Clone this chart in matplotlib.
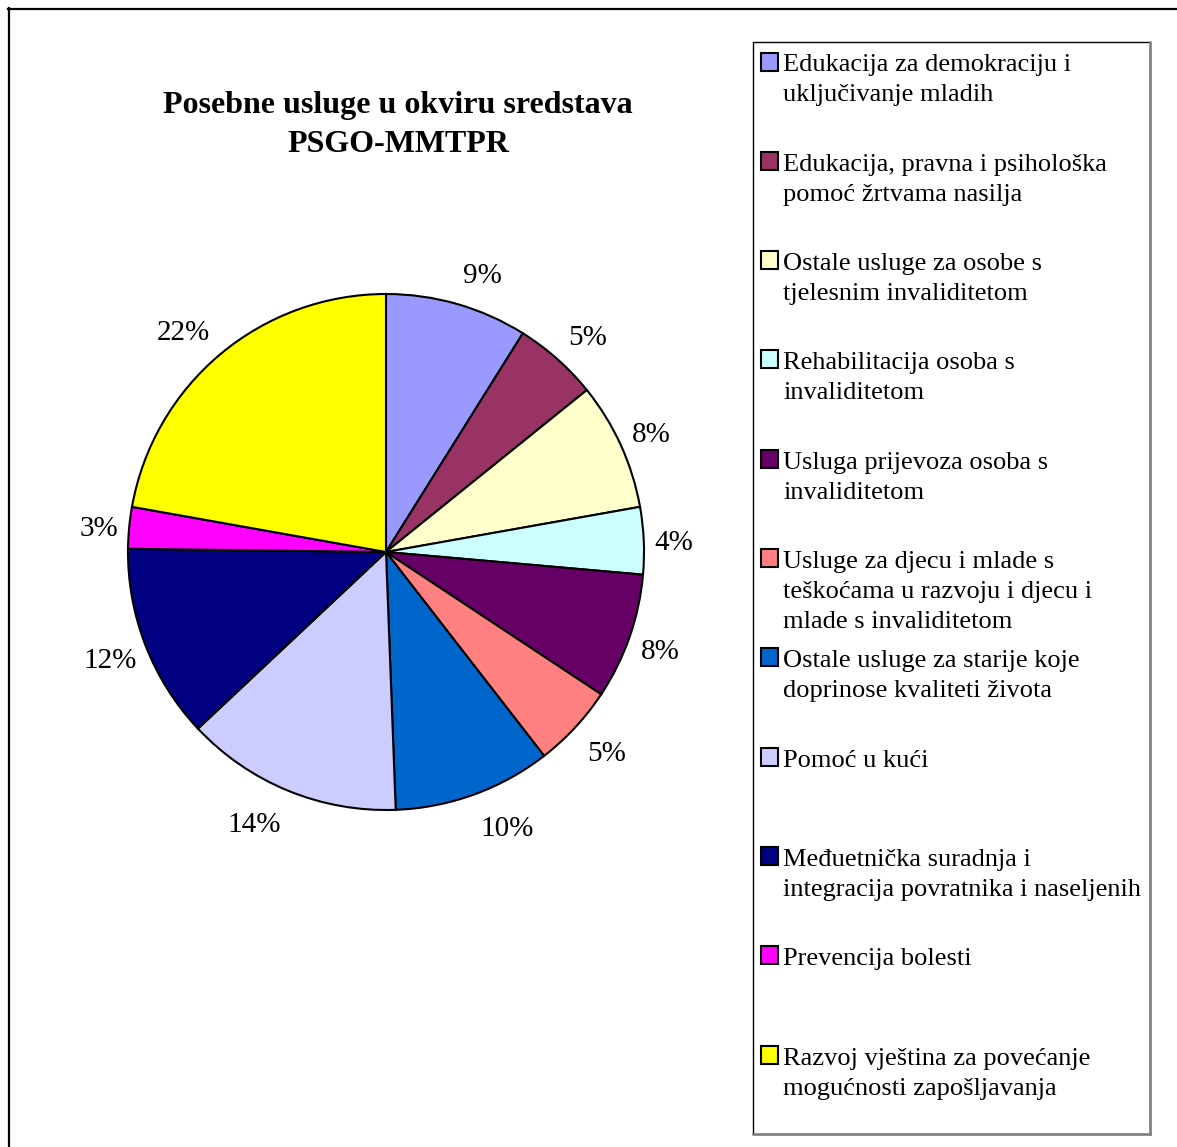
import matplotlib
matplotlib.use("Agg")
import numpy as np
import matplotlib.pyplot as plt
from matplotlib.patches import Rectangle
from matplotlib.lines import Line2D

# podaci (ocitano sa slike)
kategorije = [
    "Edukacija za demokraciju i\nuključivanje mladih",
    "Edukacija, pravna i psihološka\npomoć žrtvama nasilja",
    "Ostale usluge za osobe s\ntjelesnim invaliditetom",
    "Rehabilitacija osoba s\ninvaliditetom",
    "Usluga prijevoza osoba s\ninvaliditetom",
    "Usluge za djecu i mlade s\nteškoćama u razvoju i djecu i\nmlade s invaliditetom",
    "Ostale usluge za starije koje\ndoprinose kvaliteti života",
    "Pomoć u kući",
    "Međuetnička suradnja i\nintegracija povratnika i naseljenih",
    "Prevencija bolesti",
    "Razvoj vještina za povećanje\nmogućnosti zapošljavanja",
]
udjeli = [8.9, 5.3, 8.0, 4.2, 7.9, 5.2, 9.9, 13.6, 12.2, 2.6, 22.2]
boje = ["#9999FF", "#993366", "#FFFFCC", "#CCFFFF", "#660066", "#FF8080",
        "#0066CC", "#CCCCFF", "#000080", "#FF00FF", "#FFFF00"]
naslov = "Posebne usluge u okviru sredstava\nPSGO-MMTPR"

plt.rcParams['font.family'] = ['Liberation Serif', 'DejaVu Serif']

W, H = 1177, 1147
fig = plt.figure(figsize=(W / 100, H / 100), dpi=100)
fig.patch.set_facecolor("white")

# okvir oko cijele slike (desni i donji rub izlaze van)
fig.add_artist(Line2D([8.5 / W, 8.5 / W], [0, 1 - 8 / H], color="black", lw=1.6,
                      transform=fig.transFigure))
fig.add_artist(Line2D([8 / W, 1], [1 - 9 / H, 1 - 9 / H], color="black", lw=1.6,
                      transform=fig.transFigure))

# naslov
for i, red in enumerate(naslov.split("\n")):
    fig.text(398 / W, 1 - (113 + 39 * i) / H, red, ha="center", va="baseline",
             fontsize=23, fontweight="bold")

# pita
cx, cy, r = 386, 552, 258
ax = fig.add_axes([(cx - r) / W, 1 - (cy + r) / H, 2 * r / W, 2 * r / H])
wedges, texts, autotexts = ax.pie(
    udjeli, colors=boje, startangle=90, counterclock=False,
    autopct="%.0f%%", pctdistance=1.15,
    wedgeprops=dict(edgecolor="black", linewidth=1.5),
    textprops=dict(fontsize=21, color="black"))
ax.set_xlim(-1, 1)
ax.set_ylim(-1, 1)
ax.axis("off")

# postotci kao u Excelu: rub natpisa uz rub pite
renderer = fig.canvas.get_renderer()
for w, t in zip(wedges, autotexts):
    kut = np.deg2rad((w.theta1 + w.theta2) / 2)
    dx, dy = np.cos(kut), np.sin(kut)
    sirina = t.get_window_extent(renderer).width
    x = dx * 278 + np.sign(dx) * sirina / 2 * (1 - 0.5 * abs(dx) ** 4)
    y = dy * 291 - 4
    t.set_position((x / r, y / r))

# legenda - rucno, fiksni razmak izmedu stavki
lx0, ly0, lx1, ly1 = 753, 42, 1150, 1134
lax = fig.add_axes([lx0 / W, 1 - ly1 / H, (lx1 - lx0) / W, (ly1 - ly0) / H])
lax.set_xlim(0, lx1 - lx0)
lax.set_ylim(ly1 - ly0, 0)
lax.axis("off")
lax.add_patch(Rectangle((0, 0), lx1 - lx0, ly1 - ly0, facecolor="white",
                        edgecolor="black", lw=1.0, clip_on=False))
lax.plot([lx1 - lx0, lx1 - lx0], [0, ly1 - ly0], color="#808080", lw=1.8, clip_on=False)
lax.plot([0, lx1 - lx0], [ly1 - ly0, ly1 - ly0], color="#808080", lw=1.8, clip_on=False)

razmak = 99.3
for i, (tekst, boja) in enumerate(zip(kategorije, boje)):
    base = 29.5 + razmak * i
    lax.add_patch(Rectangle((8, base - 19), 17, 18, facecolor=boja,
                            edgecolor="black", lw=1.5))
    for j, red in enumerate(tekst.split("\n")):
        lax.text(30, base + 30 * j, red, ha="left", va="baseline", fontsize=19)

fig.savefig("out.png", dpi=100, facecolor="white")
